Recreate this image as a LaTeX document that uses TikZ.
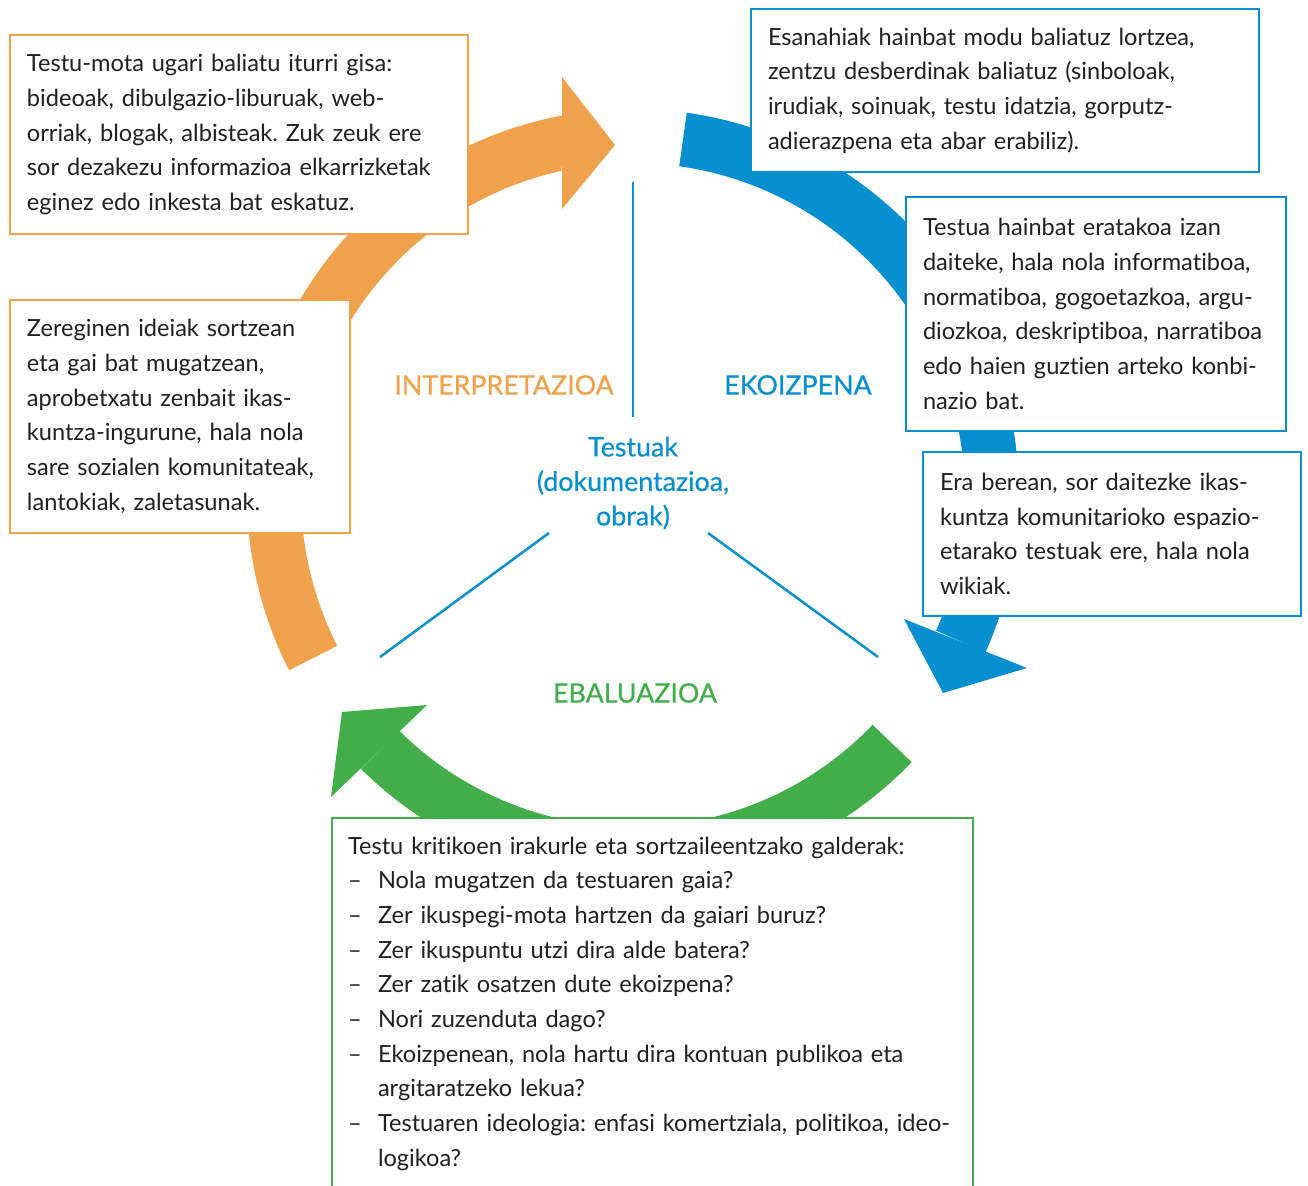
\documentclass[tikz,border=0pt]{standalone}
\usepackage{fontspec}
\setmainfont{Lato}[Ligatures={TeX,NoCommon}]
\newfontfamily\lblfont{Lato}[FakeBold=0.6]
\usetikzlibrary{calc}
\definecolor{orng}{RGB}{240,161,75}
\definecolor{blu}{RGB}{8,143,208}
\definecolor{grn}{RGB}{65,174,74}
\definecolor{txt}{RGB}{35,31,32}
\newcommand{\qdash}{\makebox[30pt][l]{--}}
\newcommand{\qindent}{\hspace*{30pt}}
\frenchspacing

\begin{document}
\begin{tikzpicture}[x=1pt,y=1pt,
  note/.style={draw, line width=2.5pt, fill=white, anchor=north west, outer sep=0pt,
    inner xsep=17pt, inner ysep=0pt, align=left, text=txt,
    font=\fontsize{23.6}{34.7}\selectfont},
  lbl/.style={font=\lblfont\fontsize{26.8}{34.5}\selectfont, align=center}]
\useasboundingbox (0,0) rectangle (1308,-1185);

\coordinate (C) at (633,-495);
% arrow heads
\coordinate (O1) at (562,-77);
\coordinate (O2) at (615,-145);
\coordinate (O3) at (562,-209);
\coordinate (B1) at (904,-619);
\coordinate (B2) at (943,-693);
\coordinate (B3) at (1027,-668);
\coordinate (G1) at (427,-705);
\coordinate (G2) at (342,-712);
\coordinate (G3) at (331,-797);

% the three curved arrows
\fill[orng] ($(C)+(207:386)$) arc[start angle=207, end angle=100.6, radius=386]
  -- ($(C)+(102.4:332)$) arc[start angle=102.4, end angle=207, radius=332] -- cycle;
\fill[orng] (O1) -- (O2) -- (O3) -- cycle;
\fill[blu] ($(C)+(82:386)$) arc[start angle=82, end angle=-24.1, radius=386]
  -- ($(C)+(-24.1:332)$) arc[start angle=-24.1, end angle=82, radius=332] -- cycle;
\fill[blu] (B1) -- (B2) -- (B3) -- cycle;
\fill[grn] ($(C)+(-43.8:386)$) arc[start angle=-43.8, end angle=-134.8, radius=386]
  -- ($(C)+(-134.8:332)$) arc[start angle=-134.8, end angle=-43.8, radius=332] -- cycle;
\fill[grn] (G1) -- (G2) -- (G3) -- cycle;

% dividing lines
\coordinate (V1) at (633,-182);
\coordinate (V2) at (633,-417);
\coordinate (L1) at (549,-533);
\coordinate (L2) at (380,-657);
\coordinate (R1) at (708,-533);
\coordinate (R2) at (878,-657);
\draw[blu, line width=2.5pt] (V1) -- (V2);
\draw[blu, line width=2.5pt] (L1) -- (L2);
\draw[blu, line width=2.5pt] (R1) -- (R2);

\node[lbl, text=orng] (interp) at (504,-385) {INTERPRETAZIOA};
\node[lbl, text=blu] (ekoiz) at (798,-385) {EKOIZPENA};
\node[lbl, text=grn] (ebal) at (635,-693) {EBALUAZIOA};
\node[lbl, text=blu] (testuak) at (633,-483) {Testuak\\(dokumentazioa,\\obrak)};

% text boxes
\node[note, draw=orng, text width=424pt, minimum width=458pt, minimum height=199pt] (iturri) at (10,-35)
  {Testu-mota ugari baliatu iturri gisa:\\
   bideoak, dibulgazio-liburuak, web-\\
   orriak, blogak, albisteak. Zuk zeuk ere\\
   sor dezakezu informazioa elkarrizketak\\
   eginez edo inkesta bat eskatuz.};
\node[note, draw=orng, text width=306pt, minimum width=340pt, minimum height=233pt] (ideiak) at (10,-300)
  {Zereginen ideiak sortzean\\
   eta gai bat mugatzean,\\
   aprobetxatu zenbait ikas-\\
   kuntza-ingurune, hala nola\\
   sare sozialen komunitateak,\\
   lantokiak, zaletasunak.};
\node[note, draw=blu, text width=474pt, minimum width=508pt, minimum height=163pt] (esanahi) at (751,-9)
  {Esanahiak hainbat modu baliatuz lortzea,\\
   zentzu desberdinak baliatuz (sinboloak,\\
   irudiak, soinuak, testu idatzia, gorputz-\\
   adierazpena eta abar erabiliz).};
\node[note, draw=blu, text width=346pt, minimum width=380pt, minimum height=234pt] (mota) at (906,-197)
  {Testua hainbat eratakoa izan\\
   daiteke, hala nola informatiboa,\\
   normatiboa, gogoetazkoa, argu-\\
   diozkoa, deskriptiboa, narratiboa\\
   edo haien guztien arteko konbi-\\
   nazio bat.};
\node[note, draw=blu, text width=344pt, minimum width=378pt, minimum height=164pt] (wiki) at (923,-452)
  {Era berean, sor daitezke ikas-\\
   kuntza komunitarioko espazio-\\
   etarako testuak ere, hala nola\\
   wikiak.};
\node[note, draw=grn, inner xsep=16pt, text width=609pt, text height=36pt, text depth=346pt] (galderak) at (332,-818)
  {Testu kritikoen irakurle eta sortzaileentzako galderak:\\
   \qdash Nola mugatzen da testuaren gaia?\\
   \qdash Zer ikuspegi-mota hartzen da gaiari buruz?\\
   \qdash Zer ikuspuntu utzi dira alde batera?\\
   \qdash Zer zatik osatzen dute ekoizpena?\\
   \qdash Nori zuzenduta dago?\\
   \qdash Ekoizpenean, nola hartu dira kontuan publikoa eta\\
   \qindent argitaratzeko lekua?\\
   \qdash Testuaren ideologia: enfasi komertziala, politikoa, ideo-\\
   \qindent logikoa?};
\end{tikzpicture}
\end{document}
